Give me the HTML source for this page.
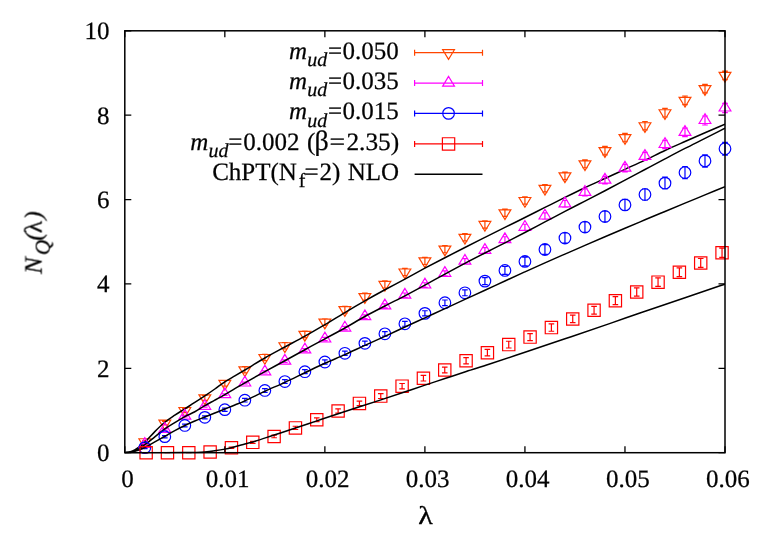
<!DOCTYPE html>
<html><head><meta charset="utf-8"><title>N_Q(lambda)</title>
<style>html,body{margin:0;padding:0;background:#fff;}svg{display:block;}body{font-family:"Liberation Serif",serif;}</style></head>
<body>
<svg width="763" height="534" viewBox="0 0 763 534">
<rect width="763" height="534" fill="#fff"/>
<clipPath id="c"><rect x="124.8" y="30.8" width="600.2" height="422.5"/></clipPath>
<path d="M144.81,440.56 V442.9 M142.01,440.56 H147.61 M142.01,442.9 H147.61 M164.81,421.44 V424.9 M162.01,421.44 H167.61 M162.01,424.9 H167.61 M184.82,408.4 V412.62 M182.02,408.4 H187.62 M182.02,412.62 H187.62 M204.83,395.43 V400.28 M202.03,395.43 H207.63 M202.03,400.28 H207.63 M224.83,380.51 V386.09 M222.03,380.51 H227.63 M222.03,386.09 H227.63 M244.84,366.67 V372.92 M242.04,366.67 H247.64 M242.04,372.92 H247.64 M264.85,354.26 V360.69 M262.05,354.26 H267.65 M262.05,360.69 H267.65 M284.85,342.48 V349.02 M282.05,342.48 H287.65 M282.05,349.02 H287.65 M304.86,331.03 V337.68 M302.06,331.03 H307.66 M302.06,337.68 H307.66 M324.87,318.74 V325.51 M322.07,318.74 H327.67 M322.07,325.51 H327.67 M344.87,306.23 V313.12 M342.07,306.23 H347.67 M342.07,313.12 H347.67 M364.88,293.09 V300.1 M362.08,293.09 H367.68 M362.08,300.1 H367.68 M384.89,280.88 V288.01 M382.09,280.88 H387.69 M382.09,288.01 H387.69 M404.89,268.38 V275.63 M402.09,268.38 H407.69 M402.09,275.63 H407.69 M424.9,257.23 V264.49 M422.1,257.23 H427.7 M422.1,264.49 H427.7 M444.91,245.5 V252.76 M442.11,245.5 H447.71 M442.11,252.76 H447.71 M464.91,233.69 V240.95 M462.11,233.69 H467.71 M462.11,240.95 H467.71 M484.92,220.82 V228.08 M482.12,220.82 H487.72 M482.12,228.08 H487.72 M504.93,209.18 V216.44 M502.13,209.18 H507.73 M502.13,216.44 H507.73 M524.93,196.86 V204.12 M522.13,196.86 H527.73 M522.13,204.12 H527.73 M544.94,184.67 V191.92 M542.14,184.67 H547.74 M542.14,191.92 H547.74 M564.95,172.05 V179.65 M562.15,172.05 H567.75 M562.15,179.65 H567.75 M584.95,159.79 V167.77 M582.15,159.79 H587.75 M582.15,167.77 H587.75 M604.96,146.43 V154.81 M602.16,146.43 H607.76 M602.16,154.81 H607.76 M624.97,133.31 V141.77 M622.17,133.31 H627.77 M622.17,141.77 H627.77 M644.97,121.48 V129.97 M642.17,121.48 H647.77 M642.17,129.97 H647.77 M664.98,108.47 V116.99 M662.18,108.47 H667.78 M662.18,116.99 H667.78 M684.99,96.01 V104.56 M682.19,96.01 H687.79 M682.19,104.56 H687.79 M704.99,84.31 V92.89 M702.19,84.31 H707.79 M702.19,92.89 H707.79 M725,71.09 V79.7 M722.2,71.09 H727.8 M722.2,79.7 H727.8 M144.81,448.45 L138.91,438.73 H150.71 Z M164.81,429.89 L158.91,420.17 H170.71 Z M184.82,417.23 L178.92,407.51 H190.72 Z M204.83,404.57 L198.93,394.85 H210.73 Z M224.83,390.02 L218.93,380.3 H230.73 Z M244.84,376.52 L238.94,366.8 H250.74 Z M264.85,364.2 L258.95,354.48 H270.75 Z M284.85,352.47 L278.95,342.75 H290.75 Z M304.86,341.08 L298.96,331.36 H310.76 Z M324.87,328.84 L318.97,319.12 H330.77 Z M344.87,316.4 L338.97,306.68 H350.77 Z M364.88,303.32 L358.98,293.6 H370.78 Z M384.89,291.17 L378.99,281.45 H390.79 Z M404.89,278.72 L398.99,269 H410.79 Z M424.9,267.58 L419,257.86 H430.8 Z M444.91,255.85 L439.01,246.13 H450.81 Z M464.91,244.04 L459.01,234.32 H470.81 Z M484.92,231.17 L479.02,221.45 H490.82 Z M504.93,219.53 L499.03,209.81 H510.83 Z M524.93,207.21 L519.03,197.49 H530.83 Z M544.94,195.02 L539.04,185.3 H550.84 Z M564.95,182.57 L559.05,172.85 H570.85 Z M584.95,170.5 L579.05,160.78 H590.85 Z M604.96,157.34 L599.06,147.62 H610.86 Z M624.97,144.26 L619.07,134.54 H630.87 Z M644.97,132.45 L639.07,122.73 H650.87 Z M664.98,119.45 L659.08,109.73 H670.88 Z M684.99,107.01 L679.09,97.29 H690.89 Z M704.99,95.32 L699.09,85.6 H710.89 Z M725,82.11 L719.1,72.39 H730.9 Z" stroke="#ff4500" stroke-width="1.2" fill="none" stroke-linejoin="miter"/>
<path clip-path="url(#c)" d="M124.8,452.7C126.47,452.49 128.13,452.52 129.8,452.07C131.47,451.62 133.14,451.08 134.8,450C138.14,447.84 141.47,445.43 144.81,442.36C148.14,439.3 151.48,434.96 154.81,431.61C158.14,428.25 161.48,424.97 164.81,422.24C168.15,419.51 171.48,417.47 174.82,415.24C178.15,413 181.49,410.95 184.82,408.82C188.15,406.7 191.49,404.64 194.82,402.49C198.16,400.35 201.49,398.2 204.83,395.95C208.16,393.7 211.5,391.35 214.83,388.99C218.16,386.64 221.5,384 224.83,381.82C228.17,379.64 231.5,377.88 234.84,375.91C238.17,373.95 241.51,372 244.84,370.01C251.51,366.02 258.18,361.82 264.85,357.98C271.52,354.15 278.18,350.65 284.85,347.01C291.52,343.38 298.19,339.91 304.86,336.17C311.53,332.44 318.2,328.55 324.87,324.61C331.54,320.67 338.2,316.5 344.87,312.54C351.54,308.59 358.21,304.7 364.88,300.9C371.55,297.1 378.22,293.4 384.89,289.76C391.56,286.13 398.22,282.68 404.89,279.09C411.56,275.49 418.23,271.76 424.9,268.2C431.57,264.65 438.24,261.19 444.91,257.74C451.58,254.29 458.24,250.87 464.91,247.49C471.58,244.11 478.25,240.79 484.92,237.45C491.59,234.11 498.26,230.77 504.93,227.45C511.6,224.12 518.26,220.82 524.93,217.49C531.6,214.16 538.27,210.79 544.94,207.45C551.61,204.11 558.28,200.73 564.95,197.45C571.62,194.17 578.28,190.9 584.95,187.75C591.62,184.59 598.29,181.58 604.96,178.51C611.63,175.43 618.3,172.38 624.97,169.31C631.64,166.24 638.3,163.25 644.97,160.11C651.64,156.98 658.31,153.59 664.98,150.49C671.65,147.4 678.32,144.5 684.99,141.55C691.66,138.6 698.32,135.66 704.99,132.77C711.66,129.88 718.33,127.06 725,124.21" stroke="#000" stroke-width="1.5" fill="none" stroke-linejoin="round"/>
<path d="M144.81,443.54 V445.23 M142.01,443.54 H147.61 M142.01,445.23 H147.61 M164.81,428.57 V430.25 M162.01,428.57 H167.61 M162.01,430.25 H167.61 M184.82,415.28 V416.97 M182.02,415.28 H187.62 M182.02,416.97 H187.62 M204.83,405.45 V407.13 M202.03,405.45 H207.63 M202.03,407.13 H207.63 M224.83,393.76 V395.45 M222.03,393.76 H227.63 M222.03,395.45 H227.63 M244.84,382.06 V383.94 M242.04,382.06 H247.64 M242.04,383.94 H247.64 M264.85,370.82 V373 M262.05,370.82 H267.65 M262.05,373 H267.65 M284.85,359.91 V362.38 M282.05,359.91 H287.65 M282.05,362.38 H287.65 M304.86,348.58 V351.35 M302.06,348.58 H307.66 M302.06,351.35 H307.66 M324.87,337.46 V340.53 M322.07,337.46 H327.67 M322.07,340.53 H327.67 M344.87,326.35 V329.71 M342.07,326.35 H347.67 M342.07,329.71 H347.67 M364.88,314.89 V318.56 M362.08,314.89 H367.68 M362.08,318.56 H367.68 M384.89,303.9 V307.86 M382.09,303.9 H387.69 M382.09,307.86 H387.69 M404.89,292.99 V297.25 M402.09,292.99 H407.69 M402.09,297.25 H407.69 M424.9,282.73 V287.26 M422.1,282.73 H427.7 M422.1,287.26 H427.7 M444.91,270.89 V275.73 M442.11,270.89 H447.71 M442.11,275.73 H447.71 M464.91,258.57 V263.74 M462.11,258.57 H467.71 M462.11,263.74 H467.71 M484.92,247.58 V253.05 M482.12,247.58 H487.72 M482.12,253.05 H487.72 M504.93,236.76 V242.52 M502.13,236.76 H507.73 M502.13,242.52 H507.73 M524.93,224.24 V230.32 M522.13,224.24 H527.73 M522.13,230.32 H527.73 M544.94,212.82 V219.21 M542.14,212.82 H547.74 M542.14,219.21 H547.74 M564.95,200.5 V207.22 M562.15,200.5 H567.75 M562.15,207.22 H567.75 M584.95,188.87 V195.9 M582.15,188.87 H587.75 M582.15,195.9 H587.75 M604.96,176.47 V183.83 M602.16,176.47 H607.76 M602.16,183.83 H607.76 M624.97,164.29 V171.97 M622.17,164.29 H627.77 M622.17,171.97 H627.77 M644.97,152.31 V160.32 M642.17,152.31 H647.77 M642.17,160.32 H647.77 M664.98,140.34 V148.66 M662.18,140.34 H667.78 M662.18,148.66 H667.78 M684.99,128.07 V136.72 M682.19,128.07 H687.79 M682.19,136.72 H687.79 M704.99,116.01 V124.98 M702.19,116.01 H707.79 M702.19,124.98 H707.79 M725,103.35 V112.66 M722.2,103.35 H727.8 M722.2,112.66 H727.8 M144.81,437.67 L138.91,447.39 H150.71 Z M164.81,422.69 L158.91,432.41 H170.71 Z M184.82,409.4 L178.92,419.12 H190.72 Z M204.83,399.57 L198.93,409.29 H210.73 Z M224.83,387.88 L218.93,397.6 H230.73 Z M244.84,376.28 L238.94,386 H250.74 Z M264.85,365.19 L258.95,374.91 H270.75 Z M284.85,354.43 L278.95,364.15 H290.75 Z M304.86,343.25 L298.96,352.97 H310.76 Z M324.87,332.28 L318.97,342 H330.77 Z M344.87,321.31 L338.97,331.03 H350.77 Z M364.88,310 L358.98,319.72 H370.78 Z M384.89,299.16 L378.99,308.88 H390.79 Z M404.89,288.4 L398.99,298.12 H410.79 Z M424.9,278.27 L419,287.99 H430.8 Z M444.91,266.59 L439.01,276.31 H450.81 Z M464.91,254.44 L459.01,264.16 H470.81 Z M484.92,243.59 L479.02,253.31 H490.82 Z M504.93,232.92 L499.03,242.64 H510.83 Z M524.93,220.56 L519.03,230.28 H530.83 Z M544.94,209.29 L539.04,219.01 H550.84 Z M564.95,197.14 L559.05,206.86 H570.85 Z M584.95,185.67 L579.05,195.39 H590.85 Z M604.96,173.43 L599.06,183.15 H610.86 Z M624.97,161.41 L619.07,171.13 H630.87 Z M644.97,149.6 L639.07,159.32 H650.87 Z M664.98,137.78 L659.08,147.5 H670.88 Z M684.99,125.67 L679.09,135.39 H690.89 Z M704.99,113.78 L699.09,123.5 H710.89 Z M725,101.29 L719.1,111.01 H730.9 Z" stroke="#ff00ff" stroke-width="1.2" fill="none" stroke-linejoin="miter"/>
<path clip-path="url(#c)" d="M124.8,452.7C126.47,452.56 128.13,452.59 129.8,452.28C131.47,451.96 133.14,451.65 134.8,450.8C138.14,449.11 141.47,447 144.81,444.68C148.14,442.36 151.48,439.52 154.81,436.88C158.14,434.24 161.48,431.25 164.81,428.86C168.15,426.47 171.48,424.57 174.82,422.53C178.15,420.49 181.49,418.42 184.82,416.63C188.15,414.83 191.49,413.6 194.82,411.78C198.16,409.95 201.49,407.59 204.83,405.66C208.16,403.72 211.5,402.02 214.83,400.17C218.16,398.32 221.5,396.47 224.83,394.56C228.17,392.65 231.5,390.65 234.84,388.7C238.17,386.74 241.51,384.73 244.84,382.83C251.51,379.04 258.18,375.3 264.85,371.61C271.52,367.93 278.18,364.37 284.85,360.73C291.52,357.08 298.19,353.41 304.86,349.76C311.53,346.1 318.2,342.41 324.87,338.79C331.54,335.17 338.2,331.74 344.87,328.03C351.54,324.32 358.21,320.18 364.88,316.51C371.55,312.84 378.22,309.46 384.89,306.01C391.56,302.55 398.22,299.28 404.89,295.8C411.56,292.31 418.23,288.74 424.9,285.12C431.57,281.5 438.24,277.7 444.91,274.07C451.58,270.43 458.24,266.82 464.91,263.31C471.58,259.79 478.25,256.38 484.92,252.97C491.59,249.56 498.26,246.26 504.93,242.85C511.6,239.44 518.26,235.99 524.93,232.51C531.6,229.03 538.27,225.48 544.94,221.96C551.61,218.45 558.28,214.9 564.95,211.42C571.62,207.93 578.28,204.52 584.95,201.08C591.62,197.63 598.29,194.22 604.96,190.74C611.63,187.26 618.3,183.73 624.97,180.19C631.64,176.66 638.3,173.07 644.97,169.52C651.64,165.97 658.31,162.4 664.98,158.89C671.65,155.37 678.32,151.84 684.99,148.43C691.66,145.02 698.32,141.79 704.99,138.43C711.66,135.07 718.33,131.65 725,128.26" stroke="#000" stroke-width="1.5" fill="none" stroke-linejoin="round"/>
<path d="M144.81,446.7 V448.57 M142.01,446.7 H147.61 M142.01,448.57 H147.61 M164.81,435.54 V437.79 M162.01,435.54 H167.61 M162.01,437.79 H167.61 M184.82,424.11 V426.78 M182.02,424.11 H187.62 M182.02,426.78 H187.62 M204.83,415.86 V418.83 M202.03,415.86 H207.63 M202.03,418.83 H207.63 M224.83,408.04 V411.3 M222.03,408.04 H227.63 M222.03,411.3 H227.63 M244.84,398.43 V402 M242.04,398.43 H247.64 M242.04,402 H247.64 M264.85,388.61 V392.33 M262.05,388.61 H267.65 M262.05,392.33 H267.65 M284.85,379.6 V383.45 M282.05,379.6 H287.65 M282.05,383.45 H287.65 M304.86,369.7 V373.7 M302.06,369.7 H307.66 M302.06,373.7 H307.66 M324.87,359.93 V364.06 M322.07,359.93 H327.67 M322.07,364.06 H327.67 M344.87,351.18 V355.42 M342.07,351.18 H347.67 M342.07,355.42 H347.67 M364.88,341.16 V345.52 M362.08,341.16 H367.68 M362.08,345.52 H367.68 M384.89,331.56 V336.06 M382.09,331.56 H387.69 M382.09,336.06 H387.69 M404.89,321.39 V326.23 M402.09,321.39 H407.69 M402.09,326.23 H407.69 M424.9,310.75 V315.94 M422.1,310.75 H427.7 M422.1,315.94 H427.7 M444.91,299.98 V305.53 M442.11,299.98 H447.71 M442.11,305.53 H447.71 M464.91,289.85 V295.75 M462.11,289.85 H467.71 M462.11,295.75 H467.71 M484.92,277.66 V284.56 M482.12,277.66 H487.72 M482.12,284.56 H487.72 M504.93,266.52 V274.36 M502.13,266.52 H507.73 M502.13,274.36 H507.73 M524.93,257.08 V265.83 M522.13,257.08 H527.73 M522.13,265.83 H527.73 M544.94,244.57 V254.46 M542.14,244.57 H547.74 M542.14,254.46 H547.74 M564.95,232.92 V243.16 M562.15,232.92 H567.75 M562.15,243.16 H567.75 M584.95,221.78 V232.35 M582.15,221.78 H587.75 M582.15,232.35 H587.75 M604.96,211.08 V221.96 M602.16,211.08 H607.76 M602.16,221.96 H607.76 M624.97,199.26 V210.49 M622.17,199.26 H627.77 M622.17,210.49 H627.77 M644.97,188.74 V200.26 M642.17,188.74 H647.77 M642.17,200.26 H647.77 M664.98,177.2 V189.01 M662.18,177.2 H667.78 M662.18,189.01 H667.78 M684.99,166.53 V178.59 M682.19,166.53 H687.79 M682.19,178.59 H687.79 M704.99,154.74 V167.09 M702.19,154.74 H707.79 M702.19,167.09 H707.79 M725,142.39 V155.05 M722.2,142.39 H727.8 M722.2,155.05 H727.8 M139.01,447.64 a5.8,5.8 0 1,0 11.6,0 a5.8,5.8 0 1,0 -11.6,0 Z M159.01,436.67 a5.8,5.8 0 1,0 11.6,0 a5.8,5.8 0 1,0 -11.6,0 Z M179.02,425.45 a5.8,5.8 0 1,0 11.6,0 a5.8,5.8 0 1,0 -11.6,0 Z M199.03,417.34 a5.8,5.8 0 1,0 11.6,0 a5.8,5.8 0 1,0 -11.6,0 Z M219.03,409.67 a5.8,5.8 0 1,0 11.6,0 a5.8,5.8 0 1,0 -11.6,0 Z M239.04,400.22 a5.8,5.8 0 1,0 11.6,0 a5.8,5.8 0 1,0 -11.6,0 Z M259.05,390.47 a5.8,5.8 0 1,0 11.6,0 a5.8,5.8 0 1,0 -11.6,0 Z M279.05,381.53 a5.8,5.8 0 1,0 11.6,0 a5.8,5.8 0 1,0 -11.6,0 Z M299.06,371.7 a5.8,5.8 0 1,0 11.6,0 a5.8,5.8 0 1,0 -11.6,0 Z M319.07,361.99 a5.8,5.8 0 1,0 11.6,0 a5.8,5.8 0 1,0 -11.6,0 Z M339.07,353.3 a5.8,5.8 0 1,0 11.6,0 a5.8,5.8 0 1,0 -11.6,0 Z M359.08,343.34 a5.8,5.8 0 1,0 11.6,0 a5.8,5.8 0 1,0 -11.6,0 Z M379.09,333.81 a5.8,5.8 0 1,0 11.6,0 a5.8,5.8 0 1,0 -11.6,0 Z M399.09,323.81 a5.8,5.8 0 1,0 11.6,0 a5.8,5.8 0 1,0 -11.6,0 Z M419.1,313.35 a5.8,5.8 0 1,0 11.6,0 a5.8,5.8 0 1,0 -11.6,0 Z M439.11,302.76 a5.8,5.8 0 1,0 11.6,0 a5.8,5.8 0 1,0 -11.6,0 Z M459.11,292.8 a5.8,5.8 0 1,0 11.6,0 a5.8,5.8 0 1,0 -11.6,0 Z M479.12,281.11 a5.8,5.8 0 1,0 11.6,0 a5.8,5.8 0 1,0 -11.6,0 Z M499.13,270.44 a5.8,5.8 0 1,0 11.6,0 a5.8,5.8 0 1,0 -11.6,0 Z M519.13,261.45 a5.8,5.8 0 1,0 11.6,0 a5.8,5.8 0 1,0 -11.6,0 Z M539.14,249.51 a5.8,5.8 0 1,0 11.6,0 a5.8,5.8 0 1,0 -11.6,0 Z M559.15,238.04 a5.8,5.8 0 1,0 11.6,0 a5.8,5.8 0 1,0 -11.6,0 Z M579.15,227.07 a5.8,5.8 0 1,0 11.6,0 a5.8,5.8 0 1,0 -11.6,0 Z M599.16,216.52 a5.8,5.8 0 1,0 11.6,0 a5.8,5.8 0 1,0 -11.6,0 Z M619.17,204.88 a5.8,5.8 0 1,0 11.6,0 a5.8,5.8 0 1,0 -11.6,0 Z M639.17,194.5 a5.8,5.8 0 1,0 11.6,0 a5.8,5.8 0 1,0 -11.6,0 Z M659.18,183.11 a5.8,5.8 0 1,0 11.6,0 a5.8,5.8 0 1,0 -11.6,0 Z M679.19,172.56 a5.8,5.8 0 1,0 11.6,0 a5.8,5.8 0 1,0 -11.6,0 Z M699.19,160.91 a5.8,5.8 0 1,0 11.6,0 a5.8,5.8 0 1,0 -11.6,0 Z M719.2,148.72 a5.8,5.8 0 1,0 11.6,0 a5.8,5.8 0 1,0 -11.6,0 Z" stroke="#0000ff" stroke-width="1.2" fill="none" stroke-linejoin="miter"/>
<path clip-path="url(#c)" d="M124.8,452.7C126.47,452.59 128.13,452.59 129.8,452.36C131.47,452.13 133.14,451.85 134.8,451.31C138.14,450.23 141.47,449.07 144.81,447.51C148.14,445.95 151.48,443.82 154.81,441.94C158.14,440.06 161.48,438.14 164.81,436.25C168.15,434.35 171.48,432.34 174.82,430.55C178.15,428.76 181.49,427.07 184.82,425.49C188.15,423.91 191.49,422.46 194.82,421.06C198.16,419.65 201.49,418.39 204.83,417.05C208.16,415.71 211.5,414.38 214.83,413.04C218.16,411.71 221.5,410.37 224.83,409.03C228.17,407.7 231.5,406.4 234.84,405.03C238.17,403.65 241.51,402.33 244.84,400.81C251.51,397.76 258.18,394.39 264.85,391.31C271.52,388.23 278.18,385.42 284.85,382.33C291.52,379.23 298.19,375.93 304.86,372.75C311.53,369.57 318.2,366.28 324.87,363.26C331.54,360.23 338.2,357.6 344.87,354.61C351.54,351.62 358.21,348.37 364.88,345.33C371.55,342.28 378.22,339.39 384.89,336.34C391.56,333.29 398.22,330.1 404.89,327.02C411.56,323.93 418.23,320.89 424.9,317.82C431.57,314.75 438.24,311.64 444.91,308.58C451.58,305.51 458.24,302.48 464.91,299.42C471.58,296.37 478.25,293.34 484.92,290.27C491.59,287.2 498.26,284.06 504.93,280.99C511.6,277.91 518.26,274.86 524.93,271.83C531.6,268.81 538.27,265.81 544.94,262.85C551.61,259.88 558.28,256.98 564.95,254.07C571.62,251.16 578.28,248.26 584.95,245.38C591.62,242.5 598.29,239.63 604.96,236.77C611.63,233.92 618.3,231.08 624.97,228.25C631.64,225.42 638.3,222.61 644.97,219.81C651.64,217.01 658.31,214.24 664.98,211.46C671.65,208.68 678.32,205.9 684.99,203.15C691.66,200.39 698.32,197.66 704.99,194.92C711.66,192.18 718.33,189.43 725,186.69" stroke="#000" stroke-width="1.5" fill="none" stroke-linejoin="round"/>
<path d="M143.33,452.7 H148.93 M164.66,452.7 H170.26 M185.99,452.7 H191.59 M210.12,451.76 V452.29 M207.32,451.76 H212.92 M207.32,452.29 H212.92 M231.45,447.09 V448.52 M228.65,447.09 H234.25 M228.65,448.52 H234.25 M252.78,441.32 V443.41 M249.98,441.32 H255.58 M249.98,443.41 H255.58 M274.11,435.15 V437.77 M271.31,435.15 H276.91 M271.31,437.77 H276.91 M295.44,426.27 V429.51 M292.64,426.27 H298.24 M292.64,429.51 H298.24 M316.77,417.84 V421.57 M313.97,417.84 H319.57 M313.97,421.57 H319.57 M338.1,408.96 V413.15 M335.3,408.96 H340.9 M335.3,413.15 H340.9 M359.43,401.1 V405.66 M356.63,401.1 H362.23 M356.63,405.66 H362.23 M380.76,393.64 V398.52 M377.96,393.64 H383.56 M377.96,398.52 H383.56 M402.09,383.52 V388.82 M399.29,383.52 H404.89 M399.29,388.82 H404.89 M423.42,375.39 V381 M420.62,375.39 H426.22 M420.62,381 H426.22 M444.75,367.05 V372.96 M441.95,367.05 H447.55 M441.95,372.96 H447.55 M466.08,357.7 V363.92 M463.28,357.7 H468.88 M463.28,363.92 H468.88 M487.41,349.46 V355.96 M484.61,349.46 H490.21 M484.61,355.96 H490.21 M508.74,341.23 V347.99 M505.94,341.23 H511.54 M505.94,347.99 H511.54 M530.07,333.61 V340.59 M527.27,333.61 H532.87 M527.27,340.59 H532.87 M551.4,323.97 V331.24 M548.6,323.97 H554.2 M548.6,331.24 H554.2 M572.73,315.2 V322.71 M569.93,315.2 H575.53 M569.93,322.71 H575.53 M594.06,306.39 V314.14 M591.26,306.39 H596.86 M591.26,314.14 H596.86 M615.39,296.69 V304.69 M612.59,296.69 H618.19 M612.59,304.69 H618.19 M636.72,287.84 V296.07 M633.92,287.84 H639.52 M633.92,296.07 H639.52 M658.05,277.88 V286.37 M655.25,277.88 H660.85 M655.25,286.37 H660.85 M679.38,267.85 V276.57 M676.58,267.85 H682.18 M676.58,276.57 H682.18 M700.71,258.5 V267.45 M697.91,258.5 H703.51 M697.91,267.45 H703.51 M722.04,248.13 V257.31 M719.24,248.13 H724.84 M719.24,257.31 H724.84 M139.98,446.55 h12.3 v12.3 h-12.3 Z M161.31,446.55 h12.3 v12.3 h-12.3 Z M182.64,446.55 h12.3 v12.3 h-12.3 Z M203.97,445.87 h12.3 v12.3 h-12.3 Z M225.3,441.66 h12.3 v12.3 h-12.3 Z M246.63,436.21 h12.3 v12.3 h-12.3 Z M267.96,430.31 h12.3 v12.3 h-12.3 Z M289.29,421.74 h12.3 v12.3 h-12.3 Z M310.62,413.56 h12.3 v12.3 h-12.3 Z M331.95,404.91 h12.3 v12.3 h-12.3 Z M353.28,397.23 h12.3 v12.3 h-12.3 Z M374.61,389.93 h12.3 v12.3 h-12.3 Z M395.94,380.02 h12.3 v12.3 h-12.3 Z M417.27,372.04 h12.3 v12.3 h-12.3 Z M438.6,363.86 h12.3 v12.3 h-12.3 Z M459.93,354.66 h12.3 v12.3 h-12.3 Z M481.26,346.56 h12.3 v12.3 h-12.3 Z M502.59,338.46 h12.3 v12.3 h-12.3 Z M523.92,330.95 h12.3 v12.3 h-12.3 Z M545.25,321.46 h12.3 v12.3 h-12.3 Z M566.58,312.81 h12.3 v12.3 h-12.3 Z M587.91,304.12 h12.3 v12.3 h-12.3 Z M609.24,294.54 h12.3 v12.3 h-12.3 Z M630.57,285.81 h12.3 v12.3 h-12.3 Z M651.9,275.98 h12.3 v12.3 h-12.3 Z M673.23,266.06 h12.3 v12.3 h-12.3 Z M694.56,256.82 h12.3 v12.3 h-12.3 Z M715.89,246.57 h12.3 v12.3 h-12.3 Z" stroke="#ff0000" stroke-width="1.2" fill="none" stroke-linejoin="miter"/>
<path clip-path="url(#c)" d="M124.8,452.7C131.47,452.7 138.14,452.7 144.81,452.7C151.48,452.7 158.14,452.71 164.81,452.7C171.48,452.69 178.15,452.67 184.82,452.62C188.15,452.59 191.49,452.55 194.82,452.45C198.16,452.35 201.49,452.3 204.83,452.02C208.16,451.75 211.5,451.29 214.83,450.8C218.16,450.32 221.5,449.8 224.83,449.11C228.17,448.43 231.5,447.55 234.84,446.71C238.17,445.87 241.51,444.93 244.84,444.05C247.51,443.35 250.18,442.81 252.84,441.98C259.95,439.79 267.05,437.31 274.15,434.98C281.25,432.65 288.35,430.37 295.46,428.02C302.59,425.66 309.73,423.24 316.86,420.85C323.97,418.46 331.07,416.02 338.17,413.67C345.27,411.33 352.38,409.09 359.48,406.8C366.61,404.49 373.75,402.22 380.89,399.88C387.99,397.55 395.09,395.17 402.19,392.79C409.29,390.41 416.4,387.99 423.5,385.62C430.64,383.24 437.77,380.89 444.91,378.53C452.01,376.18 459.11,373.78 466.21,371.48C473.78,369.04 481.35,366.79 488.92,364.31C500.93,360.39 512.93,356.32 524.93,352.29C538.27,347.81 551.61,343.31 564.95,338.79C580.29,333.58 595.62,328.35 610.96,323.09C620.63,319.78 630.3,316.36 639.97,313.05C654.98,307.92 669.98,302.89 684.99,297.78C698.32,293.24 711.66,288.67 725,284.11" stroke="#000" stroke-width="1.5" fill="none" stroke-linejoin="round"/>
<path d="M124.8,452.7 v-6.5 M124.8,30.8 v6.5 M224.83,452.7 v-6.5 M224.83,30.8 v6.5 M324.87,452.7 v-6.5 M324.87,30.8 v6.5 M424.9,452.7 v-6.5 M424.9,30.8 v6.5 M524.93,452.7 v-6.5 M524.93,30.8 v6.5 M624.97,452.7 v-6.5 M624.97,30.8 v6.5 M725,452.7 v-6.5 M725,30.8 v6.5 M124.8,452.7 h6.5 M725,452.7 h-6.5 M124.8,368.32 h6.5 M725,368.32 h-6.5 M124.8,283.94 h6.5 M725,283.94 h-6.5 M124.8,199.56 h6.5 M725,199.56 h-6.5 M124.8,115.18 h6.5 M725,115.18 h-6.5 M124.8,30.8 h6.5 M725,30.8 h-6.5" stroke="#000" stroke-width="1.3" fill="none"/>
<rect x="124.8" y="30.8" width="600.2" height="421.9" fill="none" stroke="#000" stroke-width="1.5"/>
<path d="M414.6,52.7 H482.5 M414.6,49.7 v6 M482.5,49.7 v6 M448.55,59.42 L442.65,49.7 H454.45 Z" stroke="#ff4500" stroke-width="1.2" fill="none"/>
<path d="M414.6,83.1 H482.5 M414.6,80.1 v6 M482.5,80.1 v6 M448.55,76.38 L442.65,86.1 H454.45 Z" stroke="#ff00ff" stroke-width="1.2" fill="none"/>
<path d="M414.6,113.4 H482.5 M414.6,110.4 v6 M482.5,110.4 v6 M442.75,113.4 a5.8,5.8 0 1,0 11.6,0 a5.8,5.8 0 1,0 -11.6,0 Z" stroke="#0000ff" stroke-width="1.2" fill="none"/>
<path d="M414.6,143.9 H482.5 M414.6,140.9 v6 M482.5,140.9 v6 M442.4,137.75 h12.3 v12.3 h-12.3 Z" stroke="#ff0000" stroke-width="1.2" fill="none"/>
<path d="M414.6,174.2 H482.5" stroke="#000" stroke-width="1.5" fill="none"/>
<g font-family="'Liberation Serif', serif" font-size="25" fill="#000" stroke="#000" stroke-width="0.25" opacity="0.995" text-rendering="geometricPrecision">
<text x="109.6" y="461.1" text-anchor="end">0</text>
<text x="109.6" y="376.72" text-anchor="end">2</text>
<text x="109.6" y="292.34" text-anchor="end">4</text>
<text x="109.6" y="207.96" text-anchor="end">6</text>
<text x="109.6" y="123.58" text-anchor="end">8</text>
<text x="109.6" y="39.2" text-anchor="end">10</text>
<text x="127.6" y="487.1" text-anchor="middle">0</text>
<text x="227.63" y="487.1" text-anchor="middle">0.01</text>
<text x="327.67" y="487.1" text-anchor="middle">0.02</text>
<text x="427.7" y="487.1" text-anchor="middle">0.03</text>
<text x="527.73" y="487.1" text-anchor="middle">0.04</text>
<text x="627.77" y="487.1" text-anchor="middle">0.05</text>
<text x="727.8" y="487.1" text-anchor="middle">0.06</text>
<text transform="translate(425.4,524.4) scale(1.2,1.03)" x="0" y="0" text-anchor="middle">λ</text>
<g transform="translate(41.6,272.6) rotate(-90)"><text x="-1.2" y="0" font-style="italic">N</text><text x="17.4" y="7.6" font-style="italic" font-size="21">Q</text><text x="31.9" y="0" font-style="italic">(</text><text x="39.4" y="0">λ</text><text x="53.1" y="0" font-style="italic">)</text></g>
<text x="289.1" y="58.5" font-style="italic">m</text>
<text x="307.2" y="65.9" font-style="italic" font-size="20">ud</text>
<text x="328.1" y="58.5">=</text>
<text x="342.4" y="58.5">0.050</text>
<text x="289.1" y="88.8" font-style="italic">m</text>
<text x="307.2" y="96.2" font-style="italic" font-size="20">ud</text>
<text x="328.1" y="88.8">=</text>
<text x="342.4" y="88.8">0.035</text>
<text x="289.1" y="119.1" font-style="italic">m</text>
<text x="307.2" y="126.5" font-style="italic" font-size="20">ud</text>
<text x="328.1" y="119.1">=</text>
<text x="342.4" y="119.1">0.015</text>
<text x="190.2" y="149.7" font-style="italic">m</text>
<text x="208.4" y="157.1" font-style="italic" font-size="20">ud</text>
<text x="228.2" y="149.7">=</text>
<text x="243.3" y="149.7" textLength="56.3" lengthAdjust="spacingAndGlyphs">0.002</text>
<text x="307" y="149.7">(</text>
<text x="314.6" y="149.7" font-size="28">β</text>
<text x="329.6" y="149.7" textLength="15.6" lengthAdjust="spacingAndGlyphs">=</text>
<text x="346.4" y="149.7" textLength="52.8" lengthAdjust="spacingAndGlyphs">2.35)</text>
<text x="212.2" y="180">ChPT(N</text>
<text x="298.7" y="187.4" font-size="20">f</text>
<text x="304.4" y="180">=</text>
<text x="319.6" y="180">2)</text>
<text x="347.8" y="180">NLO</text>
</g>
</svg>
</body></html>
